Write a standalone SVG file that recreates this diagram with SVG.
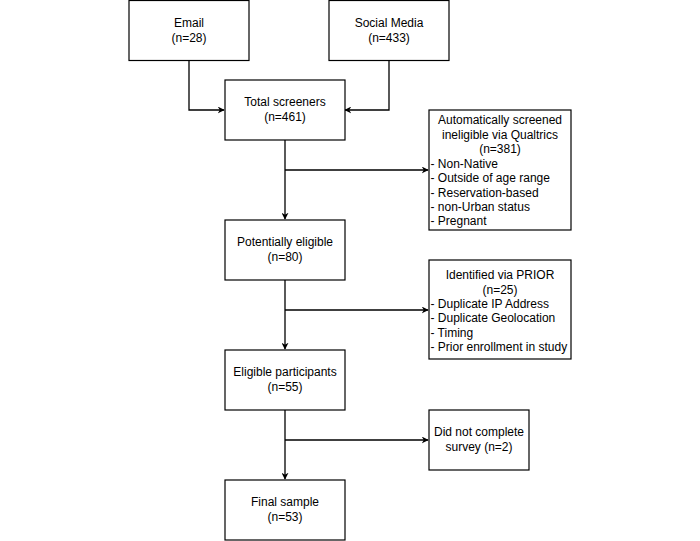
<svg xmlns="http://www.w3.org/2000/svg" width="700" height="541" viewBox="0 0 700 541">
<style>
.box{fill:#fff;stroke:#000;stroke-width:1.2}
.c{fill:none;stroke:#000;stroke-width:1.3}
text{font-family:"Liberation Sans",Arial,sans-serif;font-size:12px;fill:#000}
.m{text-anchor:middle}
</style>
<defs>
<marker id="a" viewBox="0 0 10 10" refX="9" refY="5" markerWidth="7" markerHeight="7" markerUnits="userSpaceOnUse" orient="auto">
<path d="M0,0 L10,5 L0,10 L3,5 Z" fill="#000"/>
</marker>
</defs>
<rect width="700" height="541" fill="#fff"/>
<g id="connectors">
<path class="c" d="M189,60 V110 H224" marker-end="url(#a)"/>
<path class="c" d="M389,60 V110 H345" marker-end="url(#a)"/>
<path class="c" d="M285,140 V219" marker-end="url(#a)"/>
<path class="c" d="M285,170 H428" marker-end="url(#a)"/>
<path class="c" d="M285,280 V349" marker-end="url(#a)"/>
<path class="c" d="M285,310 H428" marker-end="url(#a)"/>
<path class="c" d="M285,410 V479" marker-end="url(#a)"/>
<path class="c" d="M285,440 H428" marker-end="url(#a)"/>
</g>
<g id="email">
<rect class="box" x="129" y="0.5" width="120" height="60"/>
<text class="m" x="189" y="27">Email</text>
<text class="m" x="189" y="42">(n=28)</text>
</g>
<g id="social">
<rect class="box" x="329" y="0.5" width="120" height="60"/>
<text class="m" x="389" y="27">Social Media</text>
<text class="m" x="389" y="42">(n=433)</text>
</g>
<g id="total">
<rect class="box" x="225" y="80" width="120" height="60"/>
<text class="m" x="285" y="106">Total screeners</text>
<text class="m" x="285" y="121">(n=461)</text>
</g>
<g id="auto">
<rect class="box" x="429" y="110" width="142" height="120"/>
<text class="m" x="500" y="124">Automatically screened</text>
<text class="m" x="500" y="138.5">ineligible via Qualtrics</text>
<text class="m" x="500" y="153">(n=381)</text>
<text x="430.5" y="167.5">- Non-Native</text>
<text x="430.5" y="182">- Outside of age range</text>
<text x="430.5" y="196.5">- Reservation-based</text>
<text x="430.5" y="211">- non-Urban status</text>
<text x="430.5" y="225">- Pregnant</text>
</g>
<g id="potential">
<rect class="box" x="225" y="220" width="120" height="60"/>
<text class="m" x="285" y="246">Potentially eligible</text>
<text class="m" x="285" y="261">(n=80)</text>
</g>
<g id="prior">
<rect class="box" x="429" y="260" width="142" height="99"/>
<text class="m" x="500" y="279">Identified via PRIOR</text>
<text class="m" x="500" y="293.5">(n=25)</text>
<text x="430.5" y="307.5">- Duplicate IP Address</text>
<text x="430.5" y="322">- Duplicate Geolocation</text>
<text x="430.5" y="336.5">- Timing</text>
<text x="430.5" y="350.5">- Prior enrollment in study</text>
</g>
<g id="eligible">
<rect class="box" x="225" y="350" width="120" height="60"/>
<text class="m" x="285" y="376">Eligible participants</text>
<text class="m" x="285" y="391">(n=55)</text>
</g>
<g id="notcomplete">
<rect class="box" x="429" y="410" width="100" height="60"/>
<text class="m" x="479" y="436">Did not complete</text>
<text class="m" x="479" y="451">survey (n=2)</text>
</g>
<g id="final">
<rect class="box" x="225" y="480" width="120" height="60"/>
<text class="m" x="285" y="506">Final sample</text>
<text class="m" x="285" y="521">(n=53)</text>
</g>
</svg>
